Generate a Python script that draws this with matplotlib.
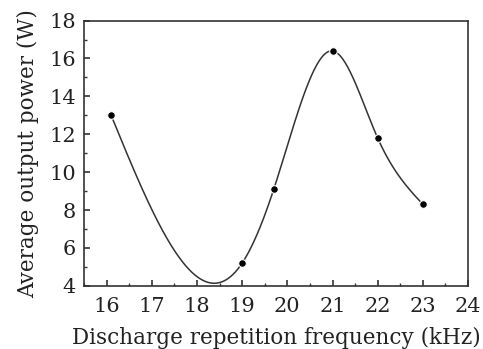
import numpy as np
import matplotlib
matplotlib.use('Agg')
from matplotlib import pyplot as plt
from matplotlib.ticker import MultipleLocator

# dados
freq = [16.1, 19.0, 19.7, 21.0, 22.0, 23.0]        # kHz
potencia = [13.0, 5.2, 9.1, 16.4, 11.8, 8.3]       # W
x_ticks = [16, 17, 18, 19, 20, 21, 22, 23, 24]
y_ticks = [4, 6, 8, 10, 12, 14, 16, 18]


def spline_natural(x, y, xs):
    # spline cubica natural, so para desenhar a curva suave entre os pontos
    x = np.asarray(x, float)
    y = np.asarray(y, float)
    n = len(x)
    h = np.diff(x)
    A = np.zeros((n, n))
    b = np.zeros(n)
    A[0, 0] = A[-1, -1] = 1
    for i in range(1, n - 1):
        A[i, i - 1] = h[i - 1]
        A[i, i] = 2 * (h[i - 1] + h[i])
        A[i, i + 1] = h[i]
        b[i] = 6 * ((y[i + 1] - y[i]) / h[i] - (y[i] - y[i - 1]) / h[i - 1])
    M = np.linalg.solve(A, b)
    ys = np.empty_like(xs)
    for k, t in enumerate(xs):
        i = min(max(np.searchsorted(x, t) - 1, 0), n - 2)
        a = x[i + 1] - t
        c = t - x[i]
        ys[k] = (M[i] * a**3 + M[i + 1] * c**3) / (6 * h[i]) \
            + (y[i] / h[i] - M[i] * h[i] / 6) * a \
            + (y[i + 1] / h[i] - M[i + 1] * h[i] / 6) * c
    return ys


plt.rcParams['font.family'] = ['DejaVu Serif']
fig = plt.figure(figsize=(4.83, 3.49), dpi=100)
ax = fig.add_axes([0.174, 0.181, 0.795, 0.760])

xs = np.linspace(freq[0], freq[-1], 400)
ax.plot(xs, spline_natural(freq, potencia, xs), color='#333333', linewidth=1.1, zorder=2)
ax.plot(freq, potencia, 'o', color='black', markersize=5.5,
        markeredgecolor='white', markeredgewidth=0.8, zorder=3)

ax.set_xlim(15.5, 24)
ax.set_ylim(4, 18)
ax.set_xticks(x_ticks)
ax.set_yticks(y_ticks)
ax.xaxis.set_minor_locator(MultipleLocator(0.5))
ax.yaxis.set_minor_locator(MultipleLocator(1))
ax.tick_params(which='both', direction='in', color='#333333', labelsize=15, labelcolor='#222222')
ax.tick_params(which='major', length=4, width=1.2)
ax.tick_params(which='minor', length=2.5, width=1.0)
ax.tick_params(axis='x', pad=8)
ax.tick_params(axis='y', pad=6)
for s in ax.spines.values():
    s.set_color('#333333')
    s.set_linewidth(1.2)

ax.set_xlabel('Discharge repetition frequency (kHz)', fontsize=15.5, labelpad=8, color='#222222')
ax.set_ylabel('Average output power (W)', fontsize=15.5, labelpad=7, color='#222222')

plt.savefig('out.png', dpi=100)
